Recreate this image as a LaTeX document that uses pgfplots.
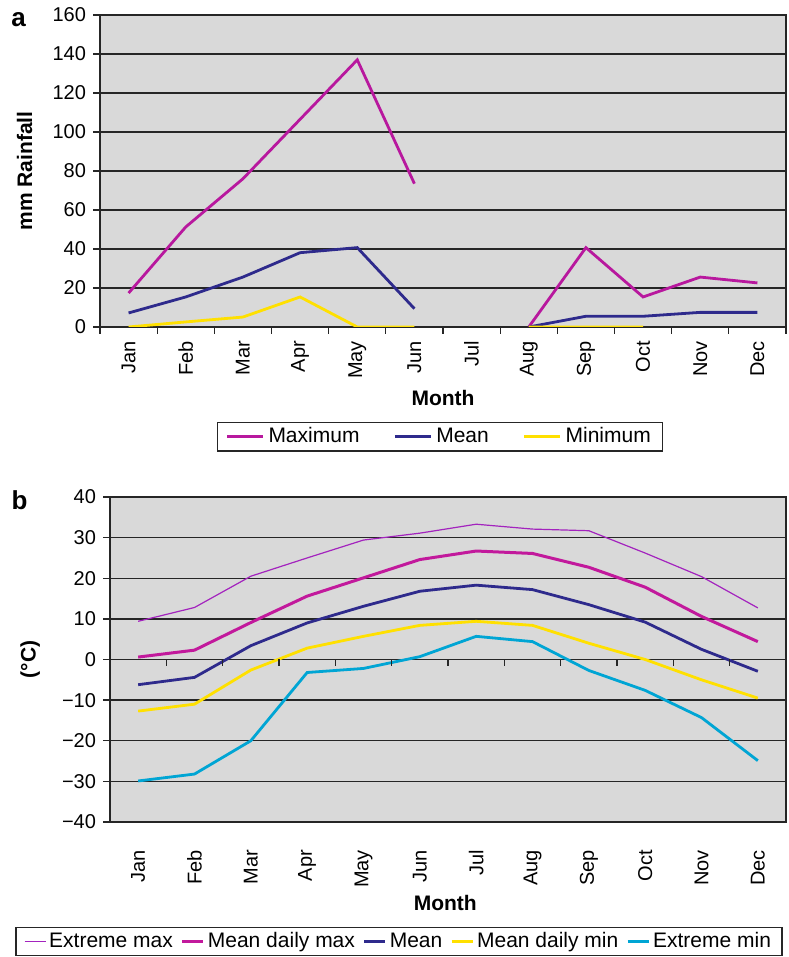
\documentclass[border=0pt]{standalone}
\usepackage{fontspec}
\setmainfont{Liberation Sans}
\usepackage{pgfplots}
\usepackage{pgfplotstable}
\pgfplotsset{compat=1.18}
\definecolor{cmax}{HTML}{B8189E}
\definecolor{cdmax}{HTML}{C2199C}
\definecolor{cmean}{HTML}{2E2A8C}
\definecolor{cmin}{HTML}{FFE000}
\definecolor{cxmax}{HTML}{A323BE}
\definecolor{cxmin}{HTML}{00A5D4}
\definecolor{bg}{HTML}{D9D9D9}

\pgfplotstableread{
m max mean min
0 17.4 7.2 0
1 51.3 15.4 2.6
2 76.0 25.6 5.1
3 106.5 38.1 15.4
4 137.0 40.7 0
5 73.5 9.4 0
6 nan nan nan
7 0 0 0
8 40.7 5.5 0
9 15.4 5.5 0
10 25.6 7.5 nan
11 22.6 7.5 nan
}\raintab

\pgfplotstableread{
m xmax dmax mean dmin xmin
0 9.4 0.6 -6.2 -12.7 -29.9
1 12.8 2.3 -4.4 -11.0 -28.2
2 20.5 9.1 3.4 -2.6 -20.0
3 25.0 15.6 9.0 2.8 -3.2
4 29.4 20.1 13.1 5.7 -2.2
5 31.1 24.6 16.8 8.4 0.7
6 33.3 26.7 18.3 9.4 5.7
7 32.1 26.1 17.2 8.4 4.4
8 31.7 22.7 13.5 4.0 -2.7
9 26.2 17.8 9.2 0.0 -7.6
10 20.4 10.6 2.5 -5.0 -14.3
11 12.7 4.4 -2.9 -9.5 -24.9
}\temptab

\pgfplotsset{
  mybase/.style={
    scale only axis,
    anchor=south west,
    axis background/.style={fill=bg},
    xmin=-0.5, xmax=11.5,
    xtick={0,...,11},
    xticklabels={Jan,Feb,Mar,Apr,May,Jun,Jul,Aug,Sep,Oct,Nov,Dec},
    xticklabel style={rotate=90, anchor=east, font=\fontsize{10}{11}\selectfont},
    yticklabel style={font=\fontsize{10}{11}\selectfont},
    major x tick style={draw=none},
    ymajorgrids,
    major grid style={black!85, line width=0.65pt},
    axis line style={black!85, line width=0.65pt},
    every tick/.style={black!85, line width=0.65pt},
    tick align=outside,
    tick pos=left,
    major tick length=3.5pt,
    minor tick length=3.5pt,
    unbounded coords=jump,
    legend cell align=left,
    xlabel={\bfseries Month},
    label style={font=\fontsize{10.5}{12}\selectfont},
  },
}

\begin{document}
\begin{tikzpicture}
% ---------- panel a ----------
\begin{axis}[mybase,
  at={(50pt,315pt)}, width=343pt, height=156pt,
  ymin=0, ymax=160,
  ytick={0,20,...,160},
  yticklabels={0,20,40,60,80,100,120,140,160},
  minor xtick={-0.5,0.5,...,11.5},
  ylabel={\bfseries mm Rainfall},
  ylabel style={at={(rel axis cs:-0.110,0.5)}, anchor=center},
  xlabel style={at={(rel axis cs:0.5,-0.2276)}, anchor=center},
  legend columns=3,
  legend image code/.code={\draw[#1] (0pt,0pt) -- (18pt,0pt);},
  legend style={at={(0.496,-0.352)}, anchor=center, draw=black!85, line width=0.6pt,
    fill=white, font=\fontsize{10.5}{12}\selectfont, inner xsep=4pt, inner ysep=1.5pt,
    nodes={inner xsep=2pt, inner ysep=1pt},
    /tikz/every even column/.append style={column sep=15pt}},
]
\addplot[cmax, line width=1.4pt] table[x=m, y=max] {\raintab};
\addlegendentry{Maximum}
\addplot[cmean, line width=1.4pt] table[x=m, y=mean] {\raintab};
\addlegendentry{Mean}
\addplot[cmin, line width=1.4pt] table[x=m, y=min] {\raintab};
\addlegendentry{Minimum}
\end{axis}
\node[font=\fontsize{13}{14}\selectfont\bfseries] at (9.25pt,468.5pt) {a};

% ---------- panel b ----------
\begin{axis}[mybase,
  at={(55pt,67.5pt)}, width=338pt, height=162.5pt,
  ymin=-40, ymax=40,
  ytick={-40,-30,...,40},
  yticklabels={−40,−30,−20,−10,0,10,20,30,40},
  minor xtick={},
  xticklabel style={xshift=-7pt},
  ylabel={\bfseries (°C)},
  ylabel style={at={(rel axis cs:-0.118,0.5)}, anchor=center},
  xlabel style={at={(rel axis cs:0.496,-0.249)}, anchor=center},
  legend columns=5,
  legend image code/.code={\draw[#1] (0pt,0pt) -- (10.5pt,0pt);},
  legend style={at={(0.4275,-0.368)}, anchor=center, draw=black!85, line width=0.6pt,
    fill=white, font=\fontsize{10.5}{12}\selectfont, inner xsep=4pt, inner ysep=1.5pt,
    nodes={inner xsep=1.5pt, inner ysep=1pt},
    /tikz/every even column/.append style={column sep=2.5pt}},
]
\addplot[cxmax, line width=0.6pt] table[x=m, y=xmax] {\temptab};
\addlegendentry{Extreme max}
\addplot[cdmax, line width=1.5pt] table[x=m, y=dmax] {\temptab};
\addlegendentry{Mean daily max}
\addplot[cmean, line width=1.4pt] table[x=m, y=mean] {\temptab};
\addlegendentry{Mean}
\addplot[cmin, line width=1.4pt] table[x=m, y=dmin] {\temptab};
\addlegendentry{Mean daily min}
\addplot[cxmin, line width=1.4pt] table[x=m, y=xmin] {\temptab};
\addlegendentry{Extreme min}
\pgfplotsinvokeforeach{0.5,1.5,2.5,3.5,4.5,5.5,6.5,7.5,8.5,9.5,10.5}{
  \draw[black!85, line width=0.65pt] (axis cs:#1,0) -- ([yshift=-3.5pt]axis cs:#1,0);
}
\end{axis}
\node[font=\fontsize{13}{14}\selectfont\bfseries] at (9.75pt,228.5pt) {b};

\pgfresetboundingbox
\useasboundingbox (0pt,0pt) rectangle (394pt,478.5pt);
\end{tikzpicture}
\end{document}
